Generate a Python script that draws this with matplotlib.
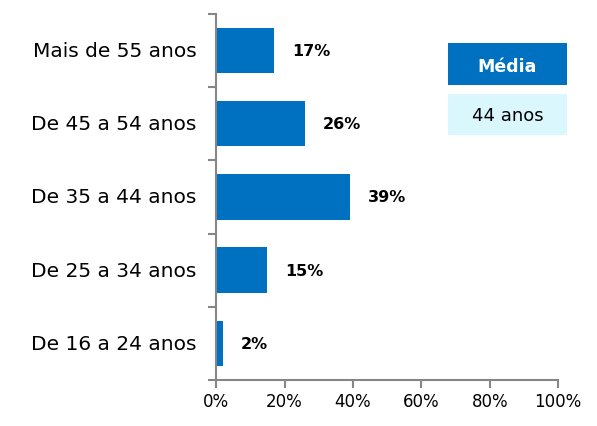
import numpy as np
import matplotlib.pyplot as plt

categorias = ['De 16 a 24 anos', 'De 25 a 34 anos', 'De 35 a 44 anos',
              'De 45 a 54 anos', 'Mais de 55 anos']
valores = [2, 15, 39, 26, 17]
media_titulo = 'Média'
media_valor = '44 anos'

azul = '#0070C0'
cinza = '#868686'

fig = plt.figure(figsize=(5.97, 4.27), dpi=100)
ax = fig.add_axes([0.362, 0.108, 0.573, 0.857])

y = np.arange(len(categorias))
ax.barh(y, valores, height=0.62, color=azul)

for yi, v in zip(y, valores):
    ax.annotate(f'{v}%', (v, yi), xytext=(13, 0), textcoords='offset points',
                va='center', ha='left', fontsize=11.5, fontweight='bold')

ax.set_xlim(0, 100)
ax.set_ylim(-0.5, len(categorias) - 0.5)
ax.set_xticks(range(0, 101, 20))
ax.set_xticklabels([f'{t}%' for t in range(0, 101, 20)], fontsize=12)
ax.set_yticks(np.arange(-0.5, len(categorias), 1))
ax.set_yticklabels([])
ax.set_yticks(y, minor=True)
ax.set_yticklabels(categorias, minor=True, fontsize=14.5, va='center')
ax.tick_params(axis='y', which='minor', length=0, pad=14)
ax.tick_params(axis='y', which='major', length=6, color=cinza, width=1.5)
ax.tick_params(axis='x', length=6, color=cinza, width=1.5, direction='out', pad=3)

for s in ['top', 'right']:
    ax.spines[s].set_visible(False)
for s in ['left', 'bottom']:
    ax.spines[s].set_color(cinza)
    ax.spines[s].set_linewidth(1.5)

fig.patches.append(plt.Rectangle((448 / 597, 1 - 86 / 427), 119 / 597, 42 / 427,
                                 transform=fig.transFigure, fc=azul, ec='none', zorder=0))
fig.patches.append(plt.Rectangle((448 / 597, 1 - 136 / 427), 119 / 597, 41 / 427,
                                 transform=fig.transFigure, fc='#DAF7FD', ec='none', zorder=0))
fig.text(507.5 / 597, 1 - 67 / 427, media_titulo, ha='center', va='center', fontsize=12.5,
         fontweight='bold', color='white')
fig.text(507.5 / 597, 1 - 116 / 427, media_valor, ha='center', va='center', fontsize=13)

fig.savefig('out.png', dpi=100)
